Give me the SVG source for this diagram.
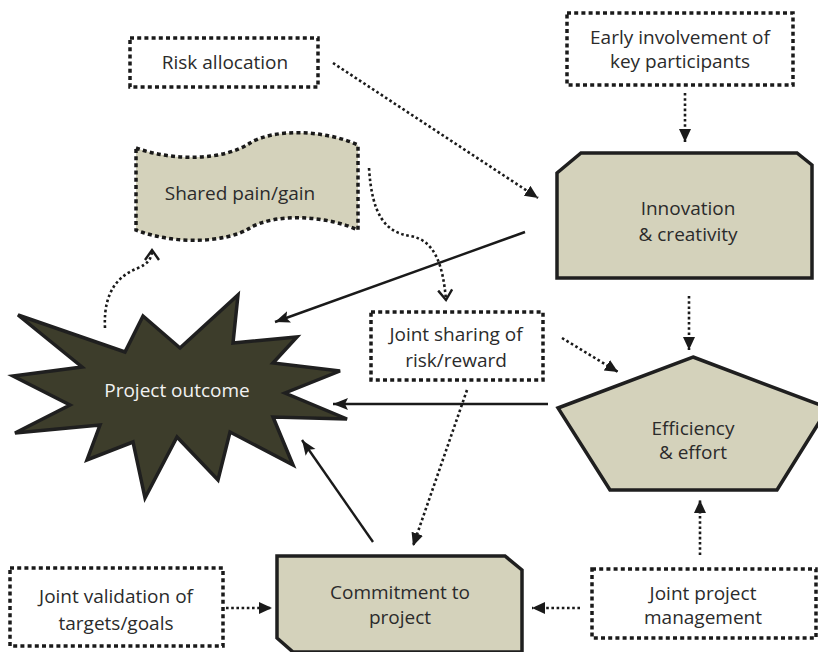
<svg xmlns="http://www.w3.org/2000/svg" width="818" height="652" viewBox="0 0 818 652">
<style>
.t{font-family:"Open Sans","Liberation Sans",sans-serif;font-size:19px;fill:#2b2b2b;text-anchor:middle}
.tw{fill:#f2f2f2}
.dbox{fill:#fff;stroke:#1a1a1a;stroke-width:3.5;stroke-dasharray:4 3.2}
.solid{fill:#d4d2bb;stroke:#1f1f1f;stroke-width:3.5;stroke-linejoin:miter}
.dl{fill:none;stroke:#1a1a1a;stroke-width:2.6;stroke-dasharray:2.6 2.6}
.sl{fill:none;stroke:#1a1a1a;stroke-width:2.4}
</style>
<defs>
<marker id="fa" markerUnits="userSpaceOnUse" markerWidth="16" markerHeight="14" refX="13" refY="6" orient="auto"><path d="M0,0 L13,6 L0,12 Z" fill="#1a1a1a"/></marker>
<marker id="sa" markerUnits="userSpaceOnUse" markerWidth="18" markerHeight="14" refX="15" refY="6" orient="auto"><path d="M0,0 L15,6 L0,12 L3,6 Z" fill="#1a1a1a"/></marker>
<marker id="va" markerUnits="userSpaceOnUse" markerWidth="16" markerHeight="18" refX="11" refY="8" orient="auto"><path d="M1,1 L11,8 L1,15" fill="none" stroke="#1a1a1a" stroke-width="2.4"/></marker>
</defs>

<g id="connectors">
<line class="dl" x1="333" y1="63" x2="538" y2="198" marker-end="url(#fa)"/>
<line class="dl" x1="685" y1="93" x2="685" y2="142" marker-end="url(#fa)"/>
<line class="dl" x1="689" y1="296" x2="689" y2="350" marker-end="url(#fa)"/>
<line class="dl" x1="562" y1="338" x2="618" y2="372" marker-end="url(#fa)"/>
<line class="dl" x1="467" y1="390" x2="413" y2="546" marker-end="url(#fa)"/>
<line class="dl" x1="226" y1="608" x2="272" y2="608" marker-end="url(#fa)"/>
<line class="dl" x1="580" y1="608" x2="532" y2="608" marker-end="url(#fa)"/>
<line class="dl" x1="700" y1="555" x2="700" y2="500" marker-end="url(#fa)"/>
<path class="dl" d="M369,168 C372,215 385,232 410,236 C435,240 443,265 446,300" marker-end="url(#va)"/>
<path class="dl" d="M105,328 C103,290 120,275 138,268 C148,264 152,258 152,250" marker-end="url(#va)"/>
<line class="sl" x1="525" y1="232" x2="275" y2="322" marker-end="url(#sa)"/>
<line class="sl" x1="548" y1="404" x2="333" y2="404" marker-end="url(#sa)"/>
<line class="sl" x1="373" y1="542" x2="302" y2="440" marker-end="url(#sa)"/>
</g>

<g id="risk-allocation">
<rect class="dbox" x="130" y="38" width="188" height="49"/>
<text class="t" x="225" y="69">Risk allocation</text>
</g>

<g id="early-involvement">
<rect class="dbox" x="567" y="13" width="226" height="72"/>
<text class="t" x="680" y="44">Early involvement of</text>
<text class="t" x="680" y="68">key participants</text>
</g>

<g id="shared-pain-gain">
<path class="dbox" style="fill:#d4d2bb" d="M136,148 C175,162 225,160 250,143 C275,128 325,130 358,145 L358,230 C325,215 275,213 250,228 C225,243 175,245 136,230 Z"/>
<text class="t" x="240" y="200">Shared pain/gain</text>
</g>

<g id="innovation">
<path class="solid" d="M581,153 L797,153 L812,165 L812,278 L557,278 L557,173 Z"/>
<text class="t" x="688" y="215">Innovation</text>
<text class="t" x="688" y="241">&amp; creativity</text>
</g>

<g id="project-outcome">
<polygon fill="#3d3d2b" stroke="#1f1f1f" stroke-width="3.5" stroke-linejoin="miter" points="18,315 125,352 143,316 180,348 238,295 233,343 297,337 273,363 340,371 285,393 347,419 273,417 293,465 230,432 218,480 177,437 145,498 133,442 87,460 100,425 15,433 70,405 13,376 82,367"/>
<text class="t tw" x="177" y="397">Project outcome</text>
</g>

<g id="joint-sharing">
<rect class="dbox" x="371" y="312" width="172" height="68"/>
<text class="t" x="456" y="341">Joint sharing of</text>
<text class="t" x="456" y="367">risk/reward</text>
</g>

<g id="efficiency">
<polygon class="solid" points="693,357 828,408 777,490 610,490 558,408"/>
<text class="t" x="693" y="435">Efficiency</text>
<text class="t" x="693" y="459">&amp; effort</text>
</g>

<g id="commitment">
<path class="solid" d="M277,556 L505,556 L522,570 L522,652 L293,652 L277,638 Z"/>
<text class="t" x="400" y="599">Commitment to</text>
<text class="t" x="400" y="624">project</text>
</g>

<g id="joint-validation">
<rect class="dbox" x="10" y="568" width="213" height="78"/>
<text class="t" x="116" y="603">Joint validation of</text>
<text class="t" x="116" y="630">targets/goals</text>
</g>

<g id="joint-project-management">
<rect class="dbox" x="592" y="569" width="224" height="69"/>
<text class="t" x="703" y="600">Joint project</text>
<text class="t" x="703" y="624">management</text>
</g>
</svg>
